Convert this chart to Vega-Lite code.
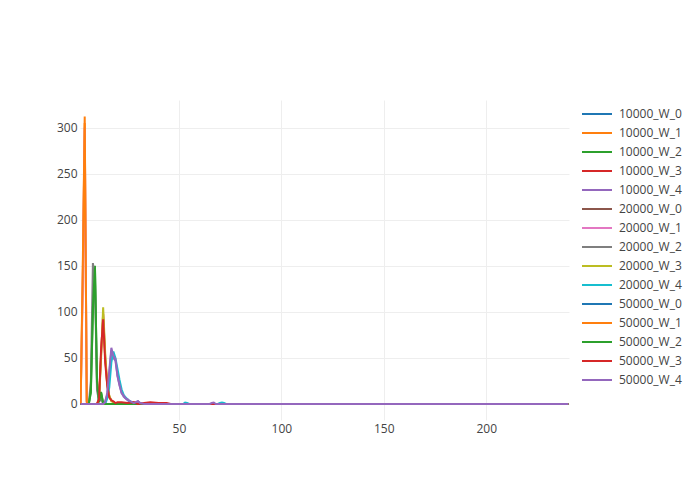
{
  "$schema": "https://vega.github.io/schema/vega-lite/v6.json",
  "autosize": {"type": "none"},
  "padding": {"left": 80, "top": 100, "right": 131, "bottom": 80},
  "width": 489,
  "height": 320,
  "background": "white",
  "config": {
    "view": {"stroke": null},
    "font": "Open Sans",
    "axis": {"labelFont": "Open Sans", "labelFontSize": 12, "labelColor": "#444", "gridColor": "#eee", "gridWidth": 1, "domain": false, "ticks": false, "title": null},
    "legend": {"labelFont": "Open Sans", "labelFontSize": 12, "labelColor": "#444", "padding": 0}
  },
  "datasets": {
    "d": [
      {"s": "10000_W_0", "x": 2, "y": 0}, {"s": "10000_W_0", "x": 240, "y": 0},
      {"s": "10000_W_1", "x": 2, "y": 0}, {"s": "10000_W_1", "x": 3, "y": 130}, {"s": "10000_W_1", "x": 4, "y": 305}, {"s": "10000_W_1", "x": 5, "y": 3}, {"s": "10000_W_1", "x": 6, "y": 0}, {"s": "10000_W_1", "x": 240, "y": 0},
      {"s": "10000_W_2", "x": 2, "y": 0}, {"s": "10000_W_2", "x": 6, "y": 0}, {"s": "10000_W_2", "x": 7, "y": 12}, {"s": "10000_W_2", "x": 8, "y": 100}, {"s": "10000_W_2", "x": 9, "y": 150}, {"s": "10000_W_2", "x": 10, "y": 22}, {"s": "10000_W_2", "x": 11, "y": 2}, {"s": "10000_W_2", "x": 12, "y": 12}, {"s": "10000_W_2", "x": 13, "y": 1}, {"s": "10000_W_2", "x": 14, "y": 0}, {"s": "10000_W_2", "x": 240, "y": 0},
      {"s": "10000_W_3", "x": 2, "y": 0}, {"s": "10000_W_3", "x": 10, "y": 0}, {"s": "10000_W_3", "x": 11, "y": 6}, {"s": "10000_W_3", "x": 12, "y": 55}, {"s": "10000_W_3", "x": 13, "y": 98}, {"s": "10000_W_3", "x": 14, "y": 50}, {"s": "10000_W_3", "x": 15, "y": 22}, {"s": "10000_W_3", "x": 16, "y": 8}, {"s": "10000_W_3", "x": 17, "y": 4}, {"s": "10000_W_3", "x": 18, "y": 2}, {"s": "10000_W_3", "x": 19, "y": 1}, {"s": "10000_W_3", "x": 20, "y": 0}, {"s": "10000_W_3", "x": 240, "y": 0},
      {"s": "10000_W_4", "x": 2, "y": 0}, {"s": "10000_W_4", "x": 13, "y": 0}, {"s": "10000_W_4", "x": 14, "y": 3}, {"s": "10000_W_4", "x": 15, "y": 10}, {"s": "10000_W_4", "x": 16, "y": 33}, {"s": "10000_W_4", "x": 17, "y": 58}, {"s": "10000_W_4", "x": 18, "y": 50}, {"s": "10000_W_4", "x": 19, "y": 47}, {"s": "10000_W_4", "x": 20, "y": 30}, {"s": "10000_W_4", "x": 21, "y": 20}, {"s": "10000_W_4", "x": 22, "y": 12}, {"s": "10000_W_4", "x": 23, "y": 8}, {"s": "10000_W_4", "x": 24, "y": 6}, {"s": "10000_W_4", "x": 25, "y": 4}, {"s": "10000_W_4", "x": 26, "y": 3}, {"s": "10000_W_4", "x": 27, "y": 2}, {"s": "10000_W_4", "x": 28, "y": 1}, {"s": "10000_W_4", "x": 30, "y": 3}, {"s": "10000_W_4", "x": 31, "y": 1}, {"s": "10000_W_4", "x": 33, "y": 0}, {"s": "10000_W_4", "x": 240, "y": 0},
      {"s": "20000_W_0", "x": 2, "y": 0}, {"s": "20000_W_0", "x": 240, "y": 0},
      {"s": "20000_W_1", "x": 2, "y": 0}, {"s": "20000_W_1", "x": 3, "y": 120}, {"s": "20000_W_1", "x": 4, "y": 300}, {"s": "20000_W_1", "x": 5, "y": 2}, {"s": "20000_W_1", "x": 6, "y": 0}, {"s": "20000_W_1", "x": 240, "y": 0},
      {"s": "20000_W_2", "x": 2, "y": 0}, {"s": "20000_W_2", "x": 6, "y": 0}, {"s": "20000_W_2", "x": 7, "y": 25}, {"s": "20000_W_2", "x": 8, "y": 153}, {"s": "20000_W_2", "x": 9, "y": 135}, {"s": "20000_W_2", "x": 10, "y": 15}, {"s": "20000_W_2", "x": 11, "y": 3}, {"s": "20000_W_2", "x": 12, "y": 6}, {"s": "20000_W_2", "x": 13, "y": 0}, {"s": "20000_W_2", "x": 240, "y": 0},
      {"s": "20000_W_3", "x": 2, "y": 0}, {"s": "20000_W_3", "x": 10, "y": 0}, {"s": "20000_W_3", "x": 11, "y": 4}, {"s": "20000_W_3", "x": 12, "y": 50}, {"s": "20000_W_3", "x": 13, "y": 105}, {"s": "20000_W_3", "x": 14, "y": 55}, {"s": "20000_W_3", "x": 15, "y": 20}, {"s": "20000_W_3", "x": 16, "y": 9}, {"s": "20000_W_3", "x": 17, "y": 3}, {"s": "20000_W_3", "x": 18, "y": 2}, {"s": "20000_W_3", "x": 19, "y": 0}, {"s": "20000_W_3", "x": 240, "y": 0},
      {"s": "20000_W_4", "x": 2, "y": 0}, {"s": "20000_W_4", "x": 14, "y": 0}, {"s": "20000_W_4", "x": 15, "y": 6}, {"s": "20000_W_4", "x": 16, "y": 18}, {"s": "20000_W_4", "x": 17, "y": 45}, {"s": "20000_W_4", "x": 18, "y": 57}, {"s": "20000_W_4", "x": 19, "y": 50}, {"s": "20000_W_4", "x": 20, "y": 38}, {"s": "20000_W_4", "x": 21, "y": 26}, {"s": "20000_W_4", "x": 22, "y": 16}, {"s": "20000_W_4", "x": 23, "y": 10}, {"s": "20000_W_4", "x": 24, "y": 7}, {"s": "20000_W_4", "x": 25, "y": 5}, {"s": "20000_W_4", "x": 26, "y": 3}, {"s": "20000_W_4", "x": 27, "y": 2}, {"s": "20000_W_4", "x": 28, "y": 1}, {"s": "20000_W_4", "x": 30, "y": 0}, {"s": "20000_W_4", "x": 52, "y": 0}, {"s": "20000_W_4", "x": 53, "y": 1.5}, {"s": "20000_W_4", "x": 54, "y": 1}, {"s": "20000_W_4", "x": 55, "y": 0}, {"s": "20000_W_4", "x": 69, "y": 0}, {"s": "20000_W_4", "x": 70, "y": 1}, {"s": "20000_W_4", "x": 71, "y": 1.5}, {"s": "20000_W_4", "x": 72, "y": 1}, {"s": "20000_W_4", "x": 73, "y": 0}, {"s": "20000_W_4", "x": 240, "y": 0},
      {"s": "50000_W_0", "x": 2, "y": 0}, {"s": "50000_W_0", "x": 240, "y": 0},
      {"s": "50000_W_1", "x": 2, "y": 0}, {"s": "50000_W_1", "x": 3, "y": 140}, {"s": "50000_W_1", "x": 4, "y": 312}, {"s": "50000_W_1", "x": 5, "y": 2}, {"s": "50000_W_1", "x": 6, "y": 0}, {"s": "50000_W_1", "x": 240, "y": 0},
      {"s": "50000_W_2", "x": 2, "y": 0}, {"s": "50000_W_2", "x": 6, "y": 0}, {"s": "50000_W_2", "x": 7, "y": 15}, {"s": "50000_W_2", "x": 8, "y": 105}, {"s": "50000_W_2", "x": 9, "y": 148}, {"s": "50000_W_2", "x": 10, "y": 25}, {"s": "50000_W_2", "x": 11, "y": 2}, {"s": "50000_W_2", "x": 12, "y": 13}, {"s": "50000_W_2", "x": 13, "y": 1}, {"s": "50000_W_2", "x": 14, "y": 0}, {"s": "50000_W_2", "x": 240, "y": 0},
      {"s": "50000_W_3", "x": 2, "y": 0}, {"s": "50000_W_3", "x": 10, "y": 0}, {"s": "50000_W_3", "x": 11, "y": 5}, {"s": "50000_W_3", "x": 12, "y": 60}, {"s": "50000_W_3", "x": 13, "y": 92}, {"s": "50000_W_3", "x": 14, "y": 45}, {"s": "50000_W_3", "x": 15, "y": 20}, {"s": "50000_W_3", "x": 16, "y": 7}, {"s": "50000_W_3", "x": 17, "y": 4}, {"s": "50000_W_3", "x": 18, "y": 3}, {"s": "50000_W_3", "x": 19, "y": 1}, {"s": "50000_W_3", "x": 20, "y": 2}, {"s": "50000_W_3", "x": 22, "y": 2}, {"s": "50000_W_3", "x": 25, "y": 1}, {"s": "50000_W_3", "x": 28, "y": 2}, {"s": "50000_W_3", "x": 30, "y": 0}, {"s": "50000_W_3", "x": 33, "y": 1}, {"s": "50000_W_3", "x": 36, "y": 2}, {"s": "50000_W_3", "x": 40, "y": 1}, {"s": "50000_W_3", "x": 44, "y": 1}, {"s": "50000_W_3", "x": 46, "y": 0}, {"s": "50000_W_3", "x": 240, "y": 0},
      {"s": "50000_W_4", "x": 2, "y": 0}, {"s": "50000_W_4", "x": 13, "y": 0}, {"s": "50000_W_4", "x": 14, "y": 2}, {"s": "50000_W_4", "x": 15, "y": 12}, {"s": "50000_W_4", "x": 16, "y": 36}, {"s": "50000_W_4", "x": 17, "y": 61}, {"s": "50000_W_4", "x": 18, "y": 52}, {"s": "50000_W_4", "x": 19, "y": 49}, {"s": "50000_W_4", "x": 20, "y": 31}, {"s": "50000_W_4", "x": 21, "y": 21}, {"s": "50000_W_4", "x": 22, "y": 12}, {"s": "50000_W_4", "x": 23, "y": 9}, {"s": "50000_W_4", "x": 24, "y": 6}, {"s": "50000_W_4", "x": 25, "y": 5}, {"s": "50000_W_4", "x": 26, "y": 3}, {"s": "50000_W_4", "x": 27, "y": 2}, {"s": "50000_W_4", "x": 28, "y": 1}, {"s": "50000_W_4", "x": 29, "y": 2}, {"s": "50000_W_4", "x": 30, "y": 3}, {"s": "50000_W_4", "x": 31, "y": 1}, {"s": "50000_W_4", "x": 33, "y": 0}, {"s": "50000_W_4", "x": 65, "y": 0}, {"s": "50000_W_4", "x": 66, "y": 1}, {"s": "50000_W_4", "x": 67, "y": 1.5}, {"s": "50000_W_4", "x": 68, "y": 0}, {"s": "50000_W_4", "x": 240, "y": 0}
    ]
  },
  "data": {"name": "d"},
  "mark": {"type": "line", "strokeWidth": 2, "clip": true},
  "encoding": {
    "x": {"field": "x", "type": "quantitative", "scale": {"domain": [1.7, 240.4], "nice": false, "zero": false}, "axis": {"values": [50, 100, 150, 200], "labelPadding": 3, "grid": true}},
    "y": {"field": "y", "type": "quantitative", "scale": {"domain": [-17.37, 330], "nice": false, "zero": false}, "axis": {"values": [0, 50, 100, 150, 200, 250, 300], "labelPadding": 3, "grid": true}},
    "color": {
      "field": "s", "type": "nominal",
      "scale": {
        "domain": ["10000_W_0", "10000_W_1", "10000_W_2", "10000_W_3", "10000_W_4", "20000_W_0", "20000_W_1", "20000_W_2", "20000_W_3", "20000_W_4", "50000_W_0", "50000_W_1", "50000_W_2", "50000_W_3", "50000_W_4"],
        "range": ["#1f77b4", "#ff7f0e", "#2ca02c", "#d62728", "#9467bd", "#8c564b", "#e377c2", "#7f7f7f", "#bcbd22", "#17becf", "#1f77b4", "#ff7f0e", "#2ca02c", "#d62728", "#9467bd"]
      },
      "legend": {"title": null, "orient": "none", "legendX": 508, "legendY": 5, "symbolType": "M-1.875,0H1.875", "symbolSize": 256, "symbolStrokeWidth": 2, "labelOffset": 13, "rowPadding": 4, "labelLimit": 200}
    }
  }
}
